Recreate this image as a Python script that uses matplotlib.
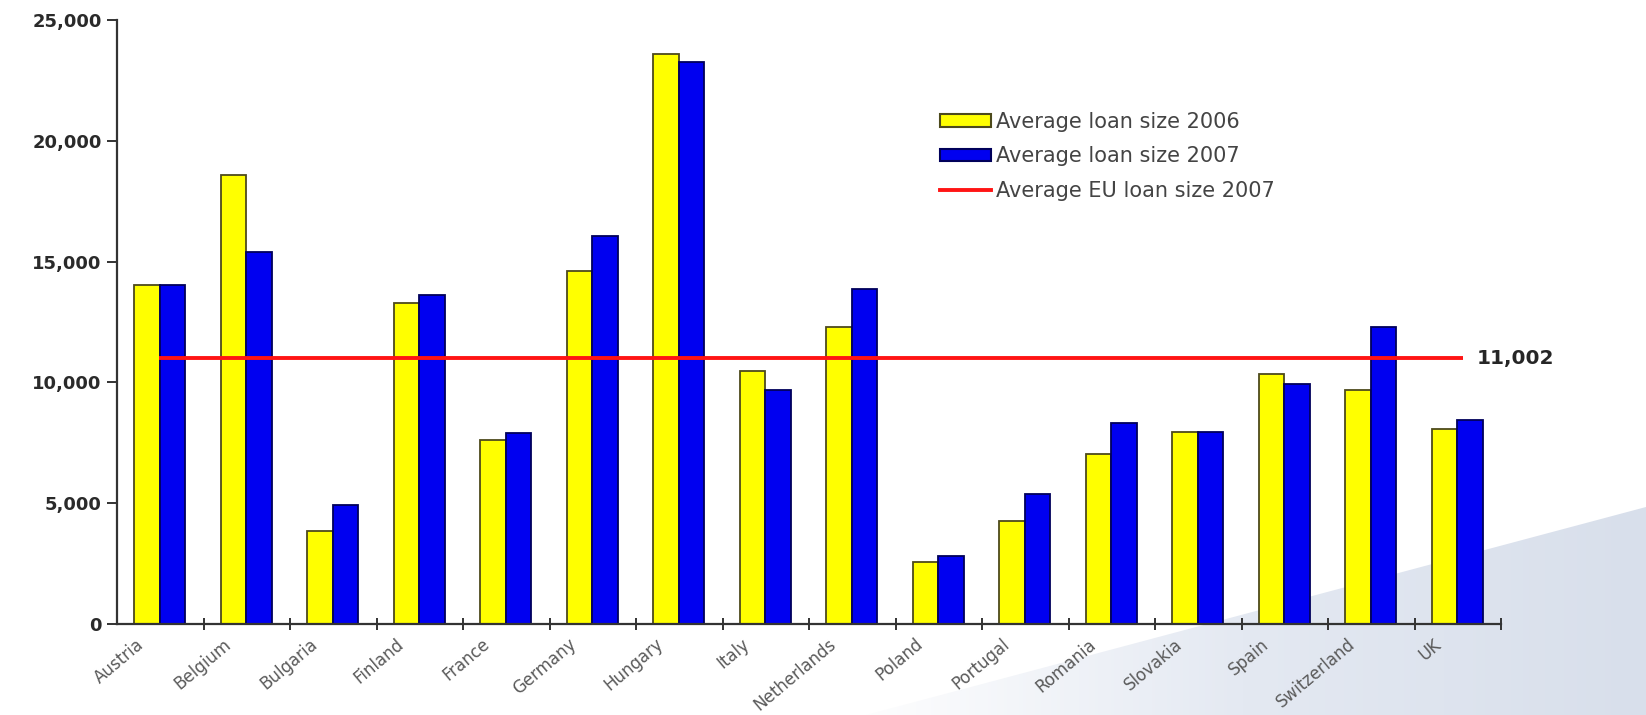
"""
Average loan size per country, 2006 vs 2007, with the EU average for 2007.
"""

import matplotlib
matplotlib.use("Agg")
import matplotlib.pyplot as plt
import numpy as np
from matplotlib.lines import Line2D
from matplotlib.patches import Patch, Polygon

countries = [
    "Austria", "Belgium", "Bulgaria", "Finland", "France", "Germany",
    "Hungary", "Italy", "Netherlands", "Poland", "Portugal", "Romania",
    "Slovakia", "Spain", "Switzerland", "UK",
]
loan_2006 = [14050, 18600, 3840, 13290, 7600, 14630, 23600, 10460,
             12310, 2580, 4280, 7020, 7960, 10360, 9670, 8080]
loan_2007 = [14050, 15410, 4910, 13610, 7920, 16070, 23250, 9690,
             13850, 2800, 5400, 8330, 7950, 9920, 12290, 8440]
eu_avg_2007 = 11002
y_ticks = [0, 5000, 10000, 15000, 20000, 25000]

W, H = 1646, 715
fig = plt.figure(figsize=(W / 100, H / 100), dpi=100, facecolor="white")

# light slide decoration in the lower right corner
bg = fig.add_axes([0, 0, 1, 1], zorder=-1)
bg.set_xlim(0, W)
bg.set_ylim(H, 0)
bg.axis("off")
grad = np.linspace(0, 1, 256)[None, :]
cmap = matplotlib.colors.LinearSegmentedColormap.from_list(
    "band", ["#ffffff", "#e4e9f2", "#d8dfeb"])
im = bg.imshow(grad, extent=[840, W, H, 480], aspect="auto", cmap=cmap)
band = Polygon([(866, H), (W, 507), (W, H)], closed=True,
               transform=bg.transData, facecolor="none", edgecolor="none")
bg.add_patch(band)
im.set_clip_path(band)

ax = fig.add_axes([117 / W, 1 - 624 / H, 1384 / W, 604 / H])
ax.patch.set_alpha(0)

x = np.arange(len(countries))
ax.bar(x + 0.2, loan_2006, width=0.295, align="edge", color="#ffff00",
       edgecolor="#4d4a1c", linewidth=1.3, zorder=2)
ax.bar(x + 0.495, loan_2007, width=0.295, align="edge", color="#0000f0",
       edgecolor="#00005a", linewidth=1.3, zorder=2)

# EU average line
ax.hlines(eu_avg_2007, x[0] + 0.49, x[-1] + 0.56, color="#ff1414",
          linewidth=2.8, zorder=3)
ax.text(x[-1] + 0.72, eu_avg_2007, f"{eu_avg_2007:,}", ha="left",
        va="center", fontsize=14.5, fontweight="bold", color="#262626")

ax.set_xlim(0, len(countries))
ax.set_ylim(0, 25000)

for side in ["top", "right"]:
    ax.spines[side].set_visible(False)
for side in ["left", "bottom"]:
    ax.spines[side].set_color("#333333")
    ax.spines[side].set_linewidth(1.6)

ax.set_yticks(y_ticks)
ax.set_yticklabels([f"{v:,}" for v in y_ticks])
ax.tick_params(axis="y", direction="out", length=7, width=1.4,
               color="#333333", pad=4, labelsize=13, labelcolor="#2a2a2a")
for lab in ax.get_yticklabels():
    lab.set_fontweight("bold")

ax.set_xticks(x + 0.22)
ax.set_xticklabels(countries, rotation=40, ha="right",
                   rotation_mode="anchor", fontsize=12, color="#5a5a5a")
ax.tick_params(axis="x", which="major", length=0, pad=8)
ax.set_xticks(np.arange(1, len(countries) + 1), minor=True)
ax.tick_params(axis="x", which="minor", direction="inout", length=8,
               width=1.4, color="#333333")

handles = [
    Patch(facecolor="#ffff00", edgecolor="#4d4a1c", linewidth=1.5),
    Patch(facecolor="#0000f0", edgecolor="#00005a", linewidth=1.5),
    Line2D([0], [0], color="#ff1414", linewidth=2.8),
]
labels = ["Average loan size 2006", "Average loan size 2007",
          "Average EU loan size 2007"]
fig.legend(handles, labels, loc="upper left",
           bbox_to_anchor=(921 / W, 1 - 93 / H), frameon=False,
           fontsize=15, handlelength=2.45, handleheight=0.55,
           handletextpad=0.24, labelspacing=0.7, labelcolor="#444444")

fig.savefig("out.png", dpi=100, facecolor="white")
